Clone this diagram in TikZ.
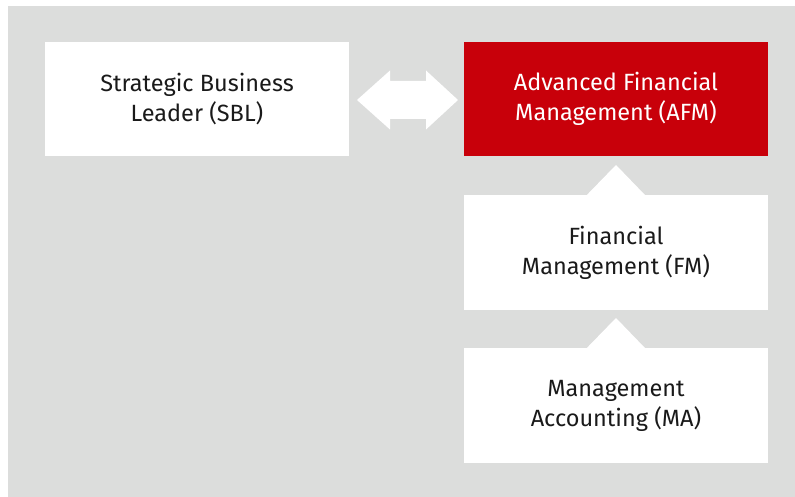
\documentclass[tikz,border=0pt]{standalone}
\usepackage{fontspec}
\setmainfont{Fira Sans}
\definecolor{bgray}{HTML}{DCDDDC}
\definecolor{accared}{HTML}{C8000A}
\definecolor{txt}{HTML}{1A1A1A}
\begin{document}
\begin{tikzpicture}[x=1pt,y=-1pt,
  box/.style={fill=white, minimum width=304pt, minimum height=114pt, inner sep=0pt,
    align=center, text=txt, font=\fontsize{23.5}{30}\selectfont},
  redbox/.style={box, fill=accared, text=white}]
\useasboundingbox (0,0) rectangle (795,497);
\fill[bgray] (8,6) rectangle (795,497);
\node[box] (sbl) at (197,99) {Strategic Business\\Leader (SBL)};
\node[redbox] (afm) at (616,99) {Advanced Financial\\Management (AFM)};
\node[box, minimum height=115pt] (fm) at (616,252.5) {Financial\\Management (FM)};
\node[box, minimum height=115pt] (ma) at (616,405.5) {Management\\Accounting (MA)};
% double arrow
\fill[white] (357,100) -- (390,70.5) -- (390,81) -- (426,81) -- (426,70.5) -- (458,100)
  -- (426,129.5) -- (426,119) -- (390,119) -- (390,129.5) -- cycle;
% triangles
\fill[white] (fm.north) ++(-29,0) -- (616,165) -- ++(29,30) -- cycle;
\fill[white] (ma.north) ++(-29,0) -- (616,318) -- ++(29,30) -- cycle;
\end{tikzpicture}
\end{document}
